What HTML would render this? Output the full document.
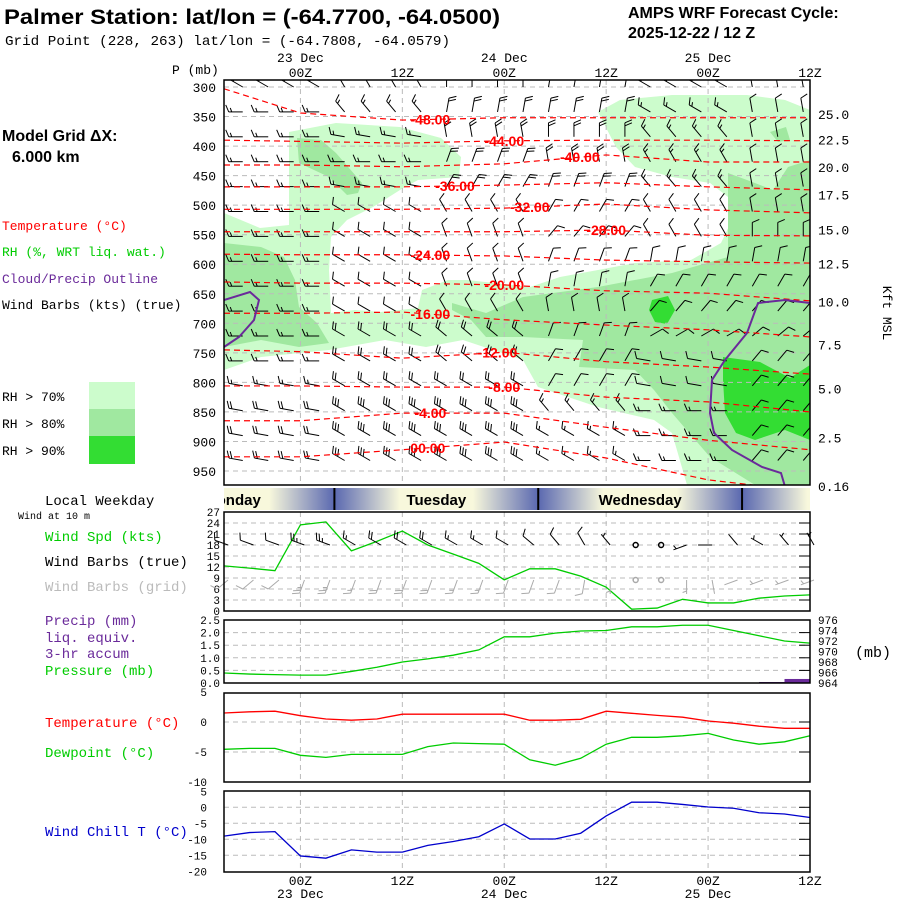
<!DOCTYPE html>
<html><head><meta charset="utf-8"><style>
body{margin:0;background:#fff;width:900px;height:900px;overflow:hidden}
svg{display:block}
.m{font-family:"Liberation Mono",monospace;font-size:13px}
.b{font-family:"Liberation Sans",sans-serif;font-weight:bold}
</style></head><body>
<svg id="c" width="900" height="900" viewBox="0 0 900 900" xmlns="http://www.w3.org/2000/svg">
<defs>
<linearGradient id="day" x1="0" x2="1" y1="0" y2="0">
<stop offset="0" stop-color="#5a68b0"/><stop offset="0.32" stop-color="#f8f8dc"/><stop offset="0.68" stop-color="#f8f8dc"/><stop offset="1" stop-color="#5a68b0"/></linearGradient>
<clipPath id="mainclip"><rect x="224" y="80" width="586" height="405"/></clipPath>
</defs>
<g>
<text x="4" y="24" class="b" font-size="21" textLength="496" lengthAdjust="spacingAndGlyphs">Palmer Station:  lat/lon = (-64.7700, -64.0500)</text>
<text x="5" y="45" class="m" textLength="445" lengthAdjust="spacingAndGlyphs" style="font-size:14px">Grid Point (228, 263) lat/lon = (-64.7808, -64.0579)</text>
<text x="628" y="18" class="b" font-size="16">AMPS WRF Forecast Cycle:</text>
<text x="628" y="38" class="b" font-size="16">2025-12-22 / 12  Z</text>
</g>
<g>
<text x="2" y="141" class="b" font-size="16">Model Grid ΔX:</text>
<text x="12" y="162" class="b" font-size="16">6.000 km</text>
<text x="2" y="230" class="m" fill="#f00">Temperature (°C)</text>
<text x="2" y="256" class="m" fill="#0c0">RH (%, WRT liq. wat.)</text>
<text x="2" y="283" class="m" fill="#6a2a9a">Cloud/Precip Outline</text>
<text x="2" y="309" class="m" fill="#000">Wind Barbs (kts) (true)</text>
<text x="2" y="401" class="m">RH &gt; 70%</text>
<text x="2" y="428" class="m">RH &gt; 80%</text>
<text x="2" y="455" class="m">RH &gt; 90%</text>
<rect x="89" y="382" width="46" height="27" fill="#ccfccc"/>
<rect x="89" y="409" width="46" height="27" fill="#a0e8a0"/>
<rect x="89" y="436" width="46" height="28" fill="#33dd33"/>
<text x="45" y="505" class="m" style="font-size:14px">Local Weekday</text>
<text x="18" y="519" class="m" style="font-size:10px">Wind at 10 m</text>
<text x="45" y="541" class="m" style="font-size:14px" fill="#0c0">Wind Spd (kts)</text>
<text x="45" y="566" class="m" style="font-size:14px">Wind Barbs (true)</text>
<text x="45" y="591" class="m" style="font-size:14px" fill="#bbb">Wind Barbs (grid)</text>
<text x="45" y="625" class="m" style="font-size:14px" fill="#6a2a9a">Precip (mm)</text>
<text x="45" y="642" class="m" style="font-size:14px" fill="#6a2a9a">liq. equiv.</text>
<text x="45" y="658" class="m" style="font-size:14px" fill="#6a2a9a">3-hr accum</text>
<text x="45" y="675" class="m" style="font-size:14px" fill="#0c0">Pressure (mb)</text>
<text x="45" y="727" class="m" style="font-size:14px" fill="#f00">Temperature (°C)</text>
<text x="45" y="757" class="m" style="font-size:14px" fill="#0c0">Dewpoint (°C)</text>
<text x="45" y="836" class="m" style="font-size:14px" fill="#00c">Wind Chill T (°C)</text>
</g>
<g id="rh" clip-path="url(#mainclip)"></g>
<g id="grid"></g>
<g id="barbs" clip-path="url(#mainclip)"></g>
<g id="cont" clip-path="url(#mainclip)"></g>
<g id="cloud" clip-path="url(#mainclip)"></g>
<g id="axes"></g>
<g id="panels"></g>
</svg>
<script>
// ---- data ----
const times = [0,3,6,9,12,15,18,21,24,27,30,33,36,39,42,45,48,51,54,57,60,63,66,69]; // hours since 15Z 22 Dec
const windSpd = [12.3,11.7,11,23.5,24.3,16.4,19,21.8,18,15.5,13,8.5,11.5,11.5,9.5,6.5,0.5,0.8,3.2,2.2,2.2,3.5,4.1,4.4];
const sfcDir = [290,290,290,290,290,300,300,300,300,300,300,300,310,320,330,320,0,240,250,270,320,300,320,330];
const gridDir = [230,230,230,200,200,200,200,200,200,200,200,200,200,200,190,180,0,180,180,170,250,250,250,250];
const pressure = [965.9,965.7,965.6,965.5,965.5,966.2,967,968,968.6,969.3,970.3,972.8,972.8,973.5,973.9,974,974.7,974.7,975,975,974,973,972,971.6];
const precip = [0,0,0,0,0,0,0,0,0,0,0,0,0,0,0,0,0,0,0,0,0,0,0.04,0.16];
const sfcTemp = [1.5,1.7,1.8,1.05,0.5,0.3,0.5,1.3,1.3,1.3,1.3,1.3,0.3,0.3,0.45,1.8,1.45,1.1,0.8,0.17,-0.2,-0.7,-1.05,-1.05];
const dewpoint = [-4.55,-4.4,-4.4,-5.55,-5.9,-5.4,-5.4,-5.4,-4.1,-3.5,-3.6,-3.7,-6.3,-7.2,-6.05,-3.7,-2.55,-2.55,-2.3,-1.9,-3,-3.7,-3.3,-2.3];
const windChill = [-9,-7.9,-7.6,-15.2,-15.9,-13.3,-14,-14,-11.9,-10.7,-9.2,-5.2,-9.9,-9.9,-8.1,-2.7,1.6,1.6,0.9,0.1,-0.3,-1.7,-2.1,-3.2];
const contourTimes = [0,9,21,33,45,57,69];
const contourLevels = [-48,-44,-40,-36,-32,-28,-24,-20,-16,-12,-8,-4,0];
const contourP = [
[303,344,356,352,352,352,352],
[390,392,395,391,390,390,391],
[432,432,435,430,415,427,427],
[469,469,469,466,462,469,474],
[507,507,507,505,498,508,513],
[545,545,545,545,542,551,552],
[583,584,584,586,593,596,598],
[630,632,632,635,645,649,662],
[683,683,681,694,703,711,723],
[745,748,759,749,765,774,786],
[806,806,808,808,825,833,850],
[865,865,852,852,876,898,914],
[926,926,914,901,928,965,985]];
const labelHour = [24.3,33,41.9,27.2,36,45,24.3,33,24.3,32.2,33,24.3,24];
const labelText = ["-48.00","-44.00","-40.00","-36.00","-32.00","-28.00","-24.00","-20.00","-16.00","-12.00","-8.00","-4.00","00.00"];
const pTicks = [300,350,400,450,500,550,600,650,700,750,800,850,900,950];
const kftTicks = ["25.0","22.5","20.0","17.5","15.0","12.5","10.0","7.5","5.0","2.5","0.16"];
const kftP = [346,389,435,482,541,599,663,736,810,893,975];
const barbDir = [
[300,330,0,10,300,350],[270,320,10,10,300,350],[270,280,350,0,320,350],[270,270,20,350,330,350],
[270,280,30,20,320,350],[270,300,330,30,330,350],[270,300,340,40,330,0],[270,300,340,20,10,10],
[270,300,340,10,30,30],[270,300,330,350,40,40],[270,300,310,20,60,50],[270,300,310,30,280,40],
[280,300,300,30,280,40],[280,300,300,320,270,40],[280,300,300,300,270,40],[280,300,300,300,270,40]];
const barbSpd = [
[15,15,20,20,15,10],[15,15,20,20,15,10],[15,15,20,20,15,10],[15,15,20,20,15,10],[15,15,20,20,15,10],
[15,10,10,10,10,10],[15,10,10,10,10,10],[15,10,10,10,10,10],[15,10,10,10,10,10],[15,10,10,10,10,10],
[15,20,20,10,10,10],[15,20,20,10,10,10],[15,20,20,10,10,10],
[20,30,30,15,15,10],[20,30,30,15,15,10],[20,30,30,15,15,10]];
const dayNames = ["Monday","Tuesday","Wednesday","Thursday"];
const midnightHours = [13,37,61];
// ---- scales ----
const X0=224, X1=810;
const xT = h => X0 + h*(X1-X0)/69;
const yP = p => 87 + (p-300)*384/650;
const NS="http://www.w3.org/2000/svg";
function el(tag, attrs, parent, name){
  const e=document.createElementNS(NS,tag);
  for(const k in attrs) e.setAttribute(k,attrs[k]);
  
  
  parent.appendChild(e); return e;
}
const G = id => document.getElementById(id);
const rh70 = "224,213 260,228 289,225 289,132 336,123 400,127 441,138 461,157 459,177 418,180 400,190 373,207 347,220 331,237 329,270 331,313 355,310 381,312 418,308 422,290 448,280 467,280 530,287 560,277 598,270 635,263 691,260 721,243 732,220 728,197 710,183 672,177 635,167 616,147 598,112 620,100 672,95 747,95 785,100 810,110 810,485 687,485 672,433 654,420 598,407 538,387 523,360 463,340 426,347 385,340 329,350 261,357 224,370";
const rh80a = "297,138 321,140 336,153 362,183 358,193 347,195 329,177 299,163";
const rh80b = "224,243 261,247 284,257 295,280 299,307 317,323 329,343 299,347 261,340 224,347";
const rh80c = "452,303 486,313 523,297 598,287 672,273 728,257 728,173 747,180 773,190 788,167 810,160 810,485 755,485 710,457 672,413 654,390 635,370 579,367 583,340 523,337 486,337 471,320 452,310";
const rh80d = "770,132 786,127 790,140 778,142";
const rh90a = "652,300 668,296 675,310 667,324 655,322 649,310";
const rh90b = "723,357 760,362 790,378 810,365 810,440 785,430 755,440 736,433 725,413 723,380";
[[rh70,"#ccfccc","rh70-region"],[rh80a,"#a0e8a0","rh80-region"],[rh80b,"#a0e8a0","rh80-region"],[rh80c,"#a0e8a0","rh80-region"],[rh80d,"#a0e8a0","rh80-region"],[rh90a,"#33dd33","rh90-region"],[rh90b,"#33dd33","rh90-region"]].forEach(r=>{
  el('polygon',{points:r[0],fill:r[1]},G('rh'),r[2]);
});
const gridG=G('grid');
pTicks.forEach(p=>{ el('line',{x1:X0,x2:X1,y1:yP(p),y2:yP(p),stroke:'#bbb','stroke-dasharray':'5,4'},gridG,'pressure-gridline'); });
const vLines=[9,21,33,45,57];
const panelsY=[[80,485],[512,611],[620,683],[693,782],[791,872]];
vLines.forEach(h=>panelsY.forEach(py=>{ el('line',{x1:xT(h),x2:xT(h),y1:py[0],y2:py[1],stroke:'#bbb','stroke-dasharray':'5,4'},gridG,'time-gridline'); }));
function barb(parent,x,y,dir,spd,color,len,name){
  const g=el('g',{stroke:color,'stroke-width':1,fill:'none'},parent,name);
  if(spd<1){ el('circle',{cx:x,cy:y,r:2.5,'stroke-width':1.5},g,'calm-circle'); return; }
  const r=dir*Math.PI/180, dx=Math.sin(r), dy=-Math.cos(r);
  const ex=x+dx*len, ey=y+dy*len;
  el('line',{x1:x,y1:y,x2:ex,y2:ey},g,'barb-shaft');
  let s=Math.round(spd/5)*5, off=0;
  const px=-dy, py=dx;
  while(s>=10){ const bx=ex-dx*off, by=ey-dy*off;
    el('line',{x1:bx,y1:by,x2:bx+px*7+dx*3,y2:by+py*7+dy*3},g,'barb-flag'); s-=10; off+=3; }
  if(s>=5){ const bx=ex-dx*(off||3), by=ey-dy*(off||3);
    el('line',{x1:bx,y1:by,x2:bx+px*4+dx*1.5,y2:by+py*4+dy*1.5},g,'barb-half'); }
}
for(let i=0;i<16;i++){ for(let k=0;k<23;k++){
  const b=Math.min(5,Math.floor(k/4));
  barb(G('barbs'), xT(3*k+1.5)+6, 87+24.9*i, barbDir[i][b], barbSpd[i][b], '#000', 14, 'upper-barb');
}}
const contG=G('cont');
contourLevels.forEach((lv,i)=>{
  const pts=contourTimes.map((h,j)=>xT(h)+','+yP(contourP[i][j])).join(' ');
  el('polyline',{points:pts,fill:'none',stroke:'#f00','stroke-width':1.2,'stroke-dasharray':'6,4'},contG,'contour-line');
  const h=labelHour[i]; let j=0; while(j<contourTimes.length-2 && contourTimes[j+1]<h) j++;
  const f=(h-contourTimes[j])/(contourTimes[j+1]-contourTimes[j]);
  const p=contourP[i][j]+f*(contourP[i][j+1]-contourP[i][j]);
  const t=el('text',{x:xT(h),y:yP(p)+5,'text-anchor':'middle',fill:'#f00','font-family':'Liberation Sans,sans-serif','font-weight':'bold','font-size':14},contG,'contour-label');
  t.textContent=labelText[i];
});
el('polyline',{points:"224,300 250,292 259,300 254,320 239,337 224,347",fill:'none',stroke:'#6a2a9a','stroke-width':2},G('cloud'),'cloud-outline-left');
el('polyline',{points:"810,303 785,300 758,303 747,333 725,360 712,380 710,413 714,433 732,450 762,467 781,473 786,490",fill:'none',stroke:'#6a2a9a','stroke-width':2},G('cloud'),'cloud-outline-right');
const ax=G('axes');
el('rect',{x:X0,y:80,width:X1-X0,height:405,fill:'none',stroke:'#000','stroke-width':1.5},ax,'main-plot-frame');
function txt(parent,x,y,s,anchor,name,extra){
  const t=el('text',Object.assign({x:x,y:y,'text-anchor':anchor||'start',class:'m'},extra||{}),parent,name); t.textContent=s; return t;
}
txt(ax,172,74,'P (mb)','start','pressure-axis-title');
pTicks.forEach(p=>txt(ax,216,yP(p)+5,String(p),'end','pressure-tick-label'));
kftTicks.forEach((s,i)=>txt(ax,818,yP(kftP[i])+5,s,'start','height-tick-label'));
txt(ax,883,313,'Kft MSL','middle','height-axis-title',{transform:'rotate(90 883 313)'});
const topLbl=[[9,'00Z','23 Dec'],[21,'12Z',''],[33,'00Z','24 Dec'],[45,'12Z',''],[57,'00Z','25 Dec'],[69,'12Z','']];
topLbl.forEach(l=>{ txt(ax,xT(l[0]),77,l[1],'middle','top-time-label'); if(l[2]) txt(ax,xT(l[0]),62,l[2],'middle','top-date-label');
  txt(ax,xT(l[0]),885,l[1],'middle','bottom-time-label'); if(l[2]) txt(ax,xT(l[0]),898,l[2],'middle','bottom-date-label'); });
const P=G('panels');
const bars=[-11].concat(midnightHours).concat([85]);
for(let i=0;i<bars.length-1;i++){
  const a=Math.max(xT(bars[i]),X0), b=Math.min(xT(bars[i+1]),X1);
  const full0=xT(bars[i]), full1=xT(bars[i+1]);
  const g=el('svg',{x:a,y:488,width:b-a,height:22,viewBox:(a-full0)+' 0 '+(b-a)+' 22',preserveAspectRatio:'none'},P,'weekday-segment');
  el('rect',{x:0,y:0,width:full1-full0,height:22,fill:'url(#day)'},g,'weekday-fill');
  const t=el('text',{x:(full1-full0)/2,y:17,'text-anchor':'middle','font-family':'Liberation Sans,sans-serif','font-weight':'bold','font-size':15},g,'weekday-name');
  t.textContent=dayNames[i];
}
midnightHours.forEach(h=>el('line',{x1:xT(h),x2:xT(h),y1:488,y2:510,stroke:'#000','stroke-width':2},P,'midnight-divider'));
function frame(y0,y1,name){ el('rect',{x:X0,y:y0,width:X1-X0,height:y1-y0,fill:'none',stroke:'#000','stroke-width':1.5},P,name); }
function line(vals,ys,color,name){ el('polyline',{points:times.map((h,i)=>xT(h)+','+ys(vals[i])).join(' '),fill:'none',stroke:color,'stroke-width':1.3},P,name); }
function hgrid(vals,ys,name){ vals.forEach(v=>{ el('line',{x1:X0,x2:X1,y1:ys(v),y2:ys(v),stroke:'#bbb','stroke-dasharray':'5,4'},P,name);
  el('line',{x1:X1-11,x2:X1,y1:ys(v),y2:ys(v),stroke:'#000'},P,'tick-mark'); }); }
const yW=v=>611-v*99/27;
const wTicks=[0,3,6,9,12,15,18,21,24,27];
hgrid(wTicks.slice(1,9),yW,'wind-gridline');
wTicks.forEach(v=>txt(P,220,yW(v)+4,String(v),'end','wind-tick-label',{style:'font-size:11px'}));
line(windSpd,yW,'#0c0','wind-speed-line');
times.forEach((h,i)=>{ barb(P,xT(h)+4,545,sfcDir[i],windSpd[i],'#000',14,'sfc-barb-true');
  barb(P,xT(h)+4,580,gridDir[i],windSpd[i],'#aaa',14,'sfc-barb-grid'); });
frame(512,611,'wind-panel-frame');
const yPr=v=>683-v*63/2.5, yMb=v=>683-(v-964)*63/12;
hgrid([0.5,1,1.5,2],yPr,'precip-gridline');
["0.0","0.5","1.0","1.5","2.0","2.5"].forEach((s,i)=>txt(P,220,yPr(i*0.5)+4,s,'end','precip-tick-label',{style:'font-size:11px'}));
[964,966,968,970,972,974,976].forEach(v=>txt(P,818,yMb(v)+4,String(v),'start','pressure-tick-label',{style:'font-size:11px'}));
txt(P,855,657,'(mb)','start','pressure-unit',{style:'font-size:15px'});
times.forEach((h,i)=>{ if(precip[i]>0){ const y=yPr(precip[i]); el('rect',{x:xT(h)-25.5,y:y,width:25.5,height:683-y,fill:'#6a2a9a'},P,'precip-bar'); }});
line(pressure,yMb,'#0c0','pressure-line');
frame(620,683,'precip-panel-frame');
const yTp=v=>722-v*6;
hgrid([0,-5],yTp,'temp-gridline');
[5,0,-5,-10].forEach(v=>txt(P,207,yTp(v)+4,String(v),'end','temp-tick-label',{style:'font-size:11px'}));
line(sfcTemp,yTp,'#f00','temperature-line');
line(dewpoint,yTp,'#0c0','dewpoint-line');
frame(693,782,'temp-panel-frame');
const yWc=v=>807.3-v*3.2;
hgrid([0,-5,-10,-15],yWc,'windchill-gridline');
[5,0,-5,-10,-15,-20].forEach(v=>txt(P,207,yWc(v)+4,String(v),'end','windchill-tick-label',{style:'font-size:11px'}));
line(windChill,yWc,'#00c','wind-chill-line');
frame(791,872,'windchill-panel-frame');
</script>
</body></html>
